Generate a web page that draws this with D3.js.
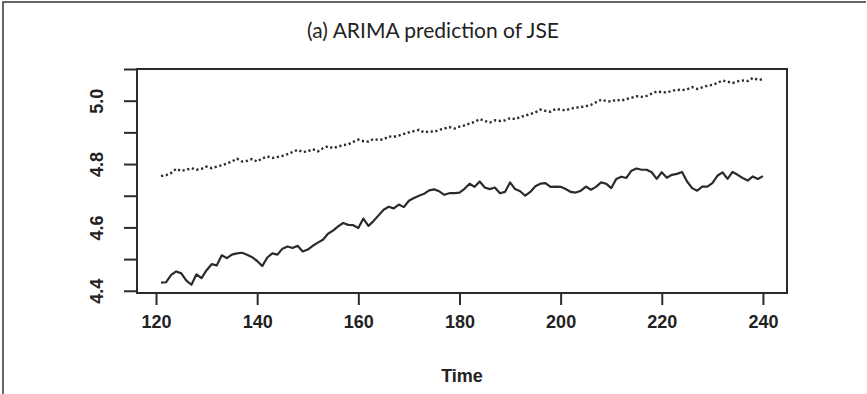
<!DOCTYPE html>
<html>
<head>
<meta charset="utf-8">
<script src="https://cdn.jsdelivr.net/npm/d3@7"></script>
<style>
  html, body { margin: 0; padding: 0; background: #fff; }
  svg { display: block; }
</style>
</head>
<body>
<svg id="chart" width="867" height="394"></svg>
<script>
// ---------- data ----------
const titleText = "(a) ARIMA prediction of JSE";
const xLabel = "Time";
const timeStart = 121;
const actual = [
  4.426, 4.427, 4.450, 4.461, 4.455, 4.432, 4.419, 4.452, 4.440, 4.465,
  4.484, 4.480, 4.512, 4.503, 4.514, 4.518, 4.520, 4.514, 4.506, 4.494,
  4.478, 4.505, 4.518, 4.514, 4.533, 4.540, 4.535, 4.542, 4.524, 4.530,
  4.542, 4.552, 4.561, 4.580, 4.590, 4.603, 4.614, 4.608, 4.607, 4.598,
  4.628, 4.605, 4.620, 4.638, 4.656, 4.665, 4.660, 4.672, 4.664, 4.684,
  4.693, 4.700, 4.706, 4.717, 4.720, 4.714, 4.703, 4.708, 4.708, 4.710,
  4.722, 4.738, 4.728, 4.745, 4.726, 4.721, 4.726, 4.708, 4.712, 4.742,
  4.721, 4.714, 4.700, 4.712, 4.730, 4.738, 4.740, 4.728, 4.729, 4.728,
  4.721, 4.712, 4.710, 4.716, 4.729, 4.719, 4.728, 4.742, 4.738, 4.724,
  4.753, 4.760, 4.756, 4.779, 4.786, 4.782, 4.782, 4.774, 4.753, 4.774,
  4.757, 4.766, 4.769, 4.775, 4.745, 4.724, 4.716, 4.729, 4.729, 4.740,
  4.763, 4.774, 4.753, 4.775, 4.766, 4.756, 4.748, 4.761, 4.753, 4.762
];
const predicted = [
  4.762, 4.765, 4.772, 4.785, 4.778, 4.782, 4.787, 4.782, 4.785, 4.792,
  4.787, 4.792, 4.796, 4.802, 4.808, 4.817, 4.808, 4.810, 4.816, 4.808,
  4.818, 4.824, 4.819, 4.822, 4.826, 4.831, 4.838, 4.845, 4.838, 4.840,
  4.847, 4.840, 4.850, 4.856, 4.850, 4.855, 4.860, 4.862, 4.870, 4.877,
  4.872, 4.871, 4.879, 4.876, 4.878, 4.887, 4.886, 4.890, 4.895, 4.900,
  4.904, 4.908, 4.900, 4.903, 4.902, 4.908, 4.912, 4.917, 4.912, 4.918,
  4.922, 4.928, 4.933, 4.942, 4.936, 4.931, 4.938, 4.936, 4.938, 4.945,
  4.942, 4.948, 4.953, 4.958, 4.963, 4.972, 4.968, 4.965, 4.974, 4.972,
  4.969, 4.975, 4.978, 4.980, 4.983, 4.987, 4.995, 5.003, 4.999, 4.997,
  5.003, 5.000, 5.005, 5.009, 5.014, 5.012, 5.015, 5.022, 5.029, 5.027,
  5.026, 5.031, 5.035, 5.033, 5.036, 5.043, 5.037, 5.042, 5.047, 5.050,
  5.056, 5.064, 5.060, 5.056, 5.061, 5.064, 5.062, 5.072, 5.066, 5.067
];
const xTicks = [120, 140, 160, 180, 200, 220, 240];
const yTicks = [4.4, 4.5, 4.6, 4.7, 4.8, 4.9, 5.0, 5.1];
const yTickLabels = ["4.4", "", "4.6", "", "4.8", "", "5.0", ""];

// ---------- layout ----------
const box = { left: 137, right: 787, top: 69, bottom: 293 };
const ink = "#2b2b2b";
const svg = d3.select("#chart");

// outer frame
svg.append("path")
  .attr("d", "M3,394 L3,2 L866,2")
  .attr("fill", "none").attr("stroke", "#333").attr("stroke-width", 1.5);

// title
svg.append("text")
  .attr("x", 433).attr("y", 38)
  .attr("text-anchor", "middle")
  .attr("font-family", "Lato, 'Open Sans', sans-serif")
  .attr("font-size", 21)
  .attr("fill", "#222")
  .text(titleText);

// scales (R style: 4% range extension)
const xDomain = [timeStart, timeStart + actual.length - 1];
const xPad = (xDomain[1] - xDomain[0]) * 0.04;
const x = d3.scaleLinear().domain([xDomain[0] - xPad, xDomain[1] + xPad]).range([box.left, box.right]);
const y = d3.scaleLinear().domain([4.393, 5.100]).range([box.bottom, box.top]);

const font = "'Liberation Sans', Arial, sans-serif";

// x axis
const xAxis = d3.axisBottom(x).tickValues(xTicks).tickSize(12).tickPadding(10).tickFormat(d3.format("d"));
const gx = svg.append("g").attr("transform", `translate(0,${box.bottom})`).call(xAxis);
gx.select(".domain").attr("d", `M${x(xTicks[0])},0H${x(xTicks[xTicks.length-1])}`)
  .attr("stroke", ink).attr("stroke-width", 2);
gx.selectAll(".tick line").attr("stroke", ink).attr("stroke-width", 2);
gx.selectAll(".tick text").attr("font-family", font).attr("font-size", 18).attr("font-weight", "bold").attr("fill", "#222");

// y axis
const yAxis = d3.axisLeft(y).tickValues(yTicks).tickSize(13).tickPadding(0).tickFormat((d, i) => yTickLabels[i]);
const gy = svg.append("g").attr("transform", `translate(${box.left},0)`).call(yAxis);
gy.select(".domain").attr("d", `M0,${y(yTicks[0])}V${y(yTicks[yTicks.length-1])}`)
  .attr("stroke", ink).attr("stroke-width", 2);
gy.selectAll(".tick line").attr("stroke", ink).attr("stroke-width", 2);
gy.selectAll(".tick text")
  .attr("x", null).attr("dy", null)
  .attr("transform", "translate(-34,0) rotate(-90)")
  .attr("text-anchor", "middle")
  .attr("font-family", font).attr("font-size", 18).attr("font-weight", "bold").attr("fill", "#222");

// plot box
svg.append("rect")
  .attr("x", box.left).attr("y", box.top)
  .attr("width", box.right - box.left).attr("height", box.bottom - box.top)
  .attr("fill", "none").attr("stroke", ink).attr("stroke-width", 2);

// x label
svg.append("text")
  .attr("x", (box.left + box.right) / 2).attr("y", 382)
  .attr("text-anchor", "middle")
  .attr("font-family", font).attr("font-size", 18).attr("font-weight", "bold").attr("fill", "#222")
  .text(xLabel);

// lines
const line = d3.line().x((d, i) => x(timeStart + i)).y(d => y(d));
svg.append("path").datum(predicted)
  .attr("d", line).attr("fill", "none")
  .attr("stroke", ink).attr("stroke-width", 2.4)
  .attr("stroke-dasharray", "2.2,2.6");
svg.append("path").datum(actual)
  .attr("d", line).attr("fill", "none")
  .attr("stroke", ink).attr("stroke-width", 2.2)
  .attr("stroke-linejoin", "round");
</script>
</body>
</html>
